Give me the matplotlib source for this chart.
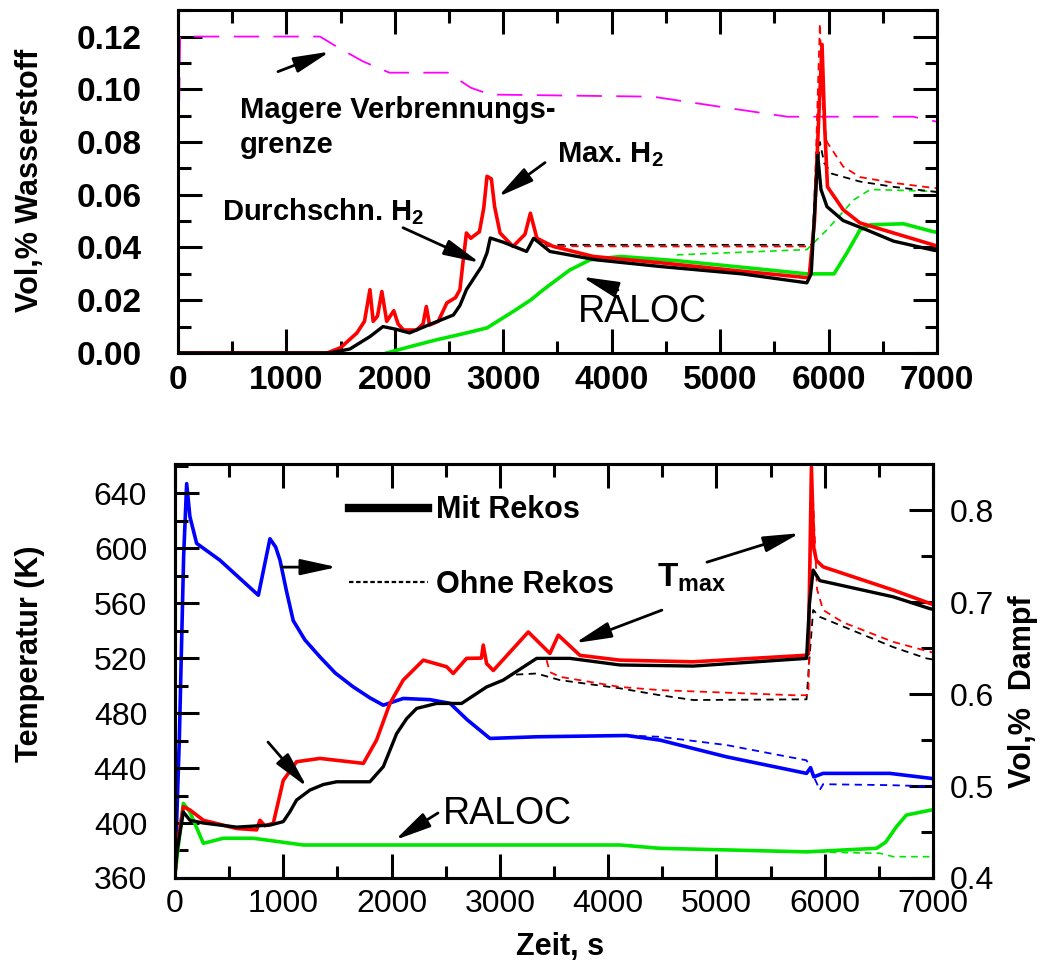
import matplotlib
matplotlib.use("Agg")
import matplotlib.pyplot as plt
from matplotlib.ticker import MultipleLocator, FormatStrFormatter
from matplotlib.lines import Line2D

plt.rcParams["font.family"] = ["Liberation Sans", "DejaVu Sans"]
plt.rcParams["mathtext.default"] = "regular"

# ---------- top panel: hydrogen (Vol,% Wasserstoff) ----------
t_lfl = [0, 20, 60, 1310, 1490, 1710, 1950, 2490, 2700, 2880, 4380, 5060, 5620, 6780, 7000]
lfl = [0.065, 0.12, 0.12, 0.12, 0.1155, 0.1105, 0.1063, 0.1063, 0.1006, 0.098,
       0.0972, 0.093, 0.0896, 0.0896, 0.0877]

t_h2max = [0, 1375, 1500, 1650, 1720, 1770, 1800, 1840, 1880, 1925, 1990, 2030, 2080,
           2200, 2260, 2290, 2320, 2400, 2480, 2560, 2600, 2630, 2660, 2700, 2780, 2820,
           2850, 2890, 2920, 2970, 3090, 3200, 3250, 3310, 3460, 3830, 4500, 5200, 5820,
           5870, 5910, 5940, 5965, 5990, 6135, 6290, 6600, 6965, 7000]
h2max = [0, 0, 0.002, 0.0076, 0.012, 0.024, 0.012, 0.014, 0.0233, 0.012, 0.016, 0.011,
         0.0087, 0.0087, 0.011, 0.0176, 0.0106, 0.012, 0.019, 0.021, 0.024, 0.035, 0.0455,
         0.0435, 0.046, 0.055, 0.067, 0.066, 0.0555, 0.0455, 0.0404, 0.045, 0.053, 0.0435,
         0.0404, 0.0366, 0.034, 0.031, 0.0285, 0.05, 0.09, 0.117, 0.085, 0.063, 0.0543,
         0.0493, 0.0455, 0.041, 0.0405]

t_h2avg = [0, 1400, 1585, 1770, 1890, 2010, 2135, 2310, 2540, 2600, 2660, 2800, 2850,
           2880, 3000, 3215, 3280, 3430, 3860, 4446, 5200, 5800, 5840, 5900, 5930, 5985,
           6135, 6350, 6600, 6965, 7000]
h2avg = [0, 0, 0.0015, 0.0062, 0.010, 0.009, 0.0076, 0.0106, 0.0144, 0.018, 0.024, 0.0328,
         0.038, 0.0436, 0.042, 0.0385, 0.0435, 0.0385, 0.0353, 0.0328, 0.030, 0.0266, 0.030,
         0.075, 0.062, 0.0555, 0.0502, 0.0467, 0.0424, 0.039, 0.0388]

t_h2max_o = [3250, 3310, 3400, 4500, 5850, 5880, 5920, 5950, 5985, 6135, 6290, 6600, 6965, 7000]
h2max_o = [0.053, 0.0435, 0.0405, 0.0404, 0.0404, 0.07, 0.125, 0.09, 0.080, 0.0707, 0.0667,
           0.0645, 0.0626, 0.0625]

t_h2avg_o = [3280, 3400, 4500, 5850, 5880, 5920, 5960, 6030, 6290, 6600, 6965, 7000]
h2avg_o = [0.0435, 0.041, 0.041, 0.041, 0.06, 0.080, 0.072, 0.068, 0.065, 0.063, 0.0612, 0.061]

t_raloc = [1925, 2150, 2385, 2620, 2850, 3090, 3250, 3370, 3500, 3615, 3800, 4080, 4600,
           5370, 5800, 6050, 6170, 6290, 6385, 6690, 6965, 7000]
raloc = [0, 0.0025, 0.005, 0.0072, 0.0095, 0.0157, 0.020, 0.024, 0.028, 0.0315, 0.0353,
         0.0366, 0.035, 0.0318, 0.030, 0.030, 0.038, 0.0467, 0.0486, 0.049, 0.046, 0.0458]

t_raloc_o = [4600, 5800, 5985, 6230, 6385, 6965, 7000]
raloc_o = [0.0372, 0.0392, 0.0467, 0.058, 0.062, 0.0613, 0.0612]

# ---------- bottom panel: temperature (K) and steam (Vol,% Dampf) ----------
t_tmax = [0, 15, 77, 138, 262, 570, 754, 785, 830, 908, 1000, 1123, 1339, 1740, 1862, 1985,
          2108, 2293, 2509, 2570, 2693, 2830, 2847, 2878, 2940, 3263, 3463, 3540, 3740, 4109,
          4786, 5817, 5850, 5878, 5900, 5924, 5986, 6633, 6971, 7000]
tmax = [362, 380, 411.9, 409.5, 402, 396, 395, 402, 398, 399.8, 431, 444.6, 447, 443.4,
        460.4, 487, 504, 518.5, 513.7, 508.8, 519.8, 520, 529.5, 516, 511, 539, 523.4,
        536.7, 522, 518.5, 517.3, 522, 523, 659, 600, 591, 586.4, 569.5, 559.8, 559]

t_tavg = [0, 20, 77, 138, 262, 570, 877, 1000, 1060, 1123, 1247, 1370, 1493, 1800, 1924,
          2047, 2140, 2232, 2416, 2647, 2878, 3032, 3340, 3648, 4109, 4786, 5833, 5860,
          5894, 5955, 6633, 6971, 7000]
tavg = [362, 380, 408, 402, 400, 397, 398.5, 401, 408, 416.7, 424, 428, 430, 430, 441,
        465, 476, 483.4, 487, 487, 499, 504, 519.8, 519.8, 515, 514.2, 519.8, 560, 584,
        576.4, 564.6, 556, 555.5]

t_tmax_o = [3432, 3463, 3555, 4109, 4478, 5709, 5850, 5870, 5890, 5930, 5986, 6170, 6633, 6971, 7000]
tmax_o = [518.5, 509.8, 506.4, 499, 496.7, 493, 493, 600, 640, 570, 555, 546, 531.8, 524.6, 524]

t_tavg_o = [3150, 3340, 3555, 4109, 4478, 4786, 5833, 5860, 5894, 5955, 6633, 6940, 7000]
tavg_o = [508, 508.8, 504, 498, 493, 489.5, 490, 520, 555, 550, 528, 519.8, 519]

t_gtemp = [0, 77, 138, 262, 446, 723, 1185, 4109, 4478, 5833, 6479, 6563, 6663, 6755, 6987, 7000]
gtemp = [362, 414.3, 408, 385.2, 388.9, 388.9, 384, 384, 381.6, 379, 381.6, 386, 397.3,
         405.8, 409.5, 409.5]

t_gtemp_o = [5833, 6509, 6633, 7000]
gtemp_o = [379, 378, 375.5, 375.5]

t_steam = [0, 40, 80, 108, 138, 200, 415, 770, 877, 930, 970, 1030, 1092, 1200, 1339, 1480,
           1645, 1800, 1924, 2108, 2355, 2540, 2700, 2909, 3340, 4170, 4478, 5094, 5833,
           5870, 5900, 5986, 6602, 6987, 7000]
steam = [0.405, 0.55, 0.75, 0.829, 0.793, 0.764, 0.7457, 0.7076, 0.769, 0.760, 0.7457,
         0.712, 0.680, 0.659, 0.6405, 0.623, 0.608, 0.596, 0.588, 0.5953, 0.594, 0.590,
         0.572, 0.5518, 0.5536, 0.555, 0.550, 0.5318, 0.5138, 0.52, 0.51, 0.5138, 0.5138,
         0.5083, 0.508]

t_steam_o = [4170, 4478, 5094, 5833, 5955, 5986, 6602, 6987, 7000]
steam_o = [0.555, 0.5536, 0.5446, 0.528, 0.4957, 0.502, 0.501, 0.4996, 0.4995]

RED = "#ff0000"
GREEN = "#00e600"
BLUE = "#0000ff"
MAGENTA = "#ff00ff"

fig = plt.figure(figsize=(10.44, 9.71), dpi=100)
ax1 = fig.add_axes([0.1705, 0.6365, 0.727, 0.353])
ax2 = fig.add_axes([0.1676, 0.0958, 0.726, 0.426])
ax2r = ax2.twinx()

arrow = dict(arrowstyle="-|>,head_length=1.1,head_width=0.24", color="black",
             lw=2, mutation_scale=20, shrinkA=0, shrinkB=0)

# top panel
ax1.plot(t_lfl, lfl, color=MAGENTA, lw=1.3, dashes=[14, 8])
ax1.plot(t_raloc_o, raloc_o, color=GREEN, lw=1.2, dashes=[4, 3])
ax1.plot(t_h2avg_o, h2avg_o, color="black", lw=1.3, dashes=[4, 3])
ax1.plot(t_h2max_o, h2max_o, color=RED, lw=1.3, dashes=[4, 3])
ax1.plot(t_raloc, raloc, color=GREEN, lw=2.6)
ax1.plot(t_h2max, h2max, color=RED, lw=2.6)
ax1.plot(t_h2avg, h2avg, color="black", lw=2.4)

ax1.set_xlim(0, 7000)
ax1.set_ylim(0, 0.130)
ax1.xaxis.set_major_locator(MultipleLocator(1000))
ax1.xaxis.set_minor_locator(MultipleLocator(500))
ax1.yaxis.set_major_locator(MultipleLocator(0.02))
ax1.yaxis.set_minor_locator(MultipleLocator(0.01))
ax1.yaxis.set_major_formatter(FormatStrFormatter("%.2f"))
ax1.tick_params(which="both", direction="in", top=True, right=True, width=2.2)
ax1.tick_params(which="major", length=17)
ax1.tick_params(which="minor", length=9)
ax1.tick_params(axis="x", pad=9, labelsize=24)
ax1.tick_params(axis="y", pad=26, labelsize=24)
for lab in ax1.get_xticklabels() + ax1.get_yticklabels():
    lab.set_fontweight("bold")

ax1.text(572, 0.0923, "Magere Verbrennungs-", fontsize=21, fontweight="bold", va="center")
ax1.text(572, 0.0790, "grenze", fontsize=21, fontweight="bold", va="center")
ax1.annotate("", xy=(1402, 0.1143), xytext=(922, 0.1067), arrowprops=arrow)
ax1.text(3495, 0.0752, "Max. H$_2$", fontsize=21, fontweight="bold", va="center")
ax1.annotate("", xy=(2951, 0.0592), xytext=(3385, 0.0722), arrowprops=arrow)
ax1.text(406, 0.0535, "Durchschn. H$_2$", fontsize=21, fontweight="bold", va="center")
ax1.annotate("", xy=(2785, 0.0342), xytext=(2075, 0.0475), arrowprops=arrow)
ax1.text(4279, 0.0156, "RALOC", fontsize=27, ha="center", va="center")
ax1.annotate("", xy=(3726, 0.0289), xytext=(4058, 0.0239), arrowprops=arrow)

# bottom panel
ax2r.plot(t_steam_o, steam_o, color=BLUE, lw=1.3, dashes=[4, 3])
ax2r.plot(t_steam, steam, color=BLUE, lw=2.6)
ax2.plot(t_gtemp_o, gtemp_o, color=GREEN, lw=1.2, dashes=[4, 3])
ax2.plot(t_tavg_o, tavg_o, color="black", lw=1.3, dashes=[4, 3])
ax2.plot(t_tmax_o, tmax_o, color=RED, lw=1.3, dashes=[4, 3])
ax2.plot(t_gtemp, gtemp, color=GREEN, lw=2.6)
ax2.plot(t_tmax, tmax, color=RED, lw=2.6)
ax2.plot(t_tavg, tavg, color="black", lw=2.4)
ax2.set_zorder(ax2r.get_zorder() + 1)
ax2.patch.set_visible(False)

ax2.set_xlim(0, 7000)
ax2.set_ylim(360, 661)
ax2r.set_ylim(0.4, 0.85)
ax2.xaxis.set_major_locator(MultipleLocator(1000))
ax2.xaxis.set_minor_locator(MultipleLocator(500))
ax2.yaxis.set_major_locator(MultipleLocator(40))
ax2.yaxis.set_minor_locator(MultipleLocator(20))
ax2r.yaxis.set_major_locator(MultipleLocator(0.1))
ax2r.yaxis.set_minor_locator(MultipleLocator(0.05))
ax2r.yaxis.set_major_formatter(FormatStrFormatter("%.1f"))
ax2.tick_params(axis="x", which="both", direction="in", top=True, width=2.2, pad=8, labelsize=23)
ax2.tick_params(axis="y", which="both", direction="in", right=False, width=2.2, pad=20, labelsize=23)
ax2r.tick_params(axis="y", which="both", direction="in", width=2.2, pad=12, labelsize=23)
for a in (ax2, ax2r):
    a.tick_params(which="major", length=17)
    a.tick_params(which="minor", length=9)

for a in (ax1, ax2, ax2r):
    for s in a.spines.values():
        s.set_linewidth(2.2)

handles = [Line2D([], [], color="black", lw=6),
           Line2D([], [], color="black", lw=1.6, dashes=[2, 1.2])]
ax2.legend(handles, ["Mit Rekos", "Ohne Rekos"], loc="upper left",
           bbox_to_anchor=(0.334, 0.49), bbox_transform=fig.transFigure,
           frameon=False, handlelength=2.6, handletextpad=0.25, labelspacing=1.45,
           borderpad=0, borderaxespad=0, prop=dict(size=22, weight="bold"))

ax2.text(4451, 578.2, "T$_{max}$", fontsize=24, fontweight="bold", va="center")
ax2.annotate("", xy=(5771, 610.9), xytext=(4913, 589.8), arrowprops=arrow)
ax2.annotate("", xy=(3694, 530.9), xytext=(4497, 554.9), arrowprops=arrow)
ax2.annotate("", xy=(1496, 586.2), xytext=(988, 586.2), arrowprops=arrow)
ax2.annotate("", xy=(1219, 426.2), xytext=(859, 458.9), arrowprops=arrow)
ax2.text(3066, 406.5, "RALOC", fontsize=27, ha="center", va="center")
ax2.annotate("", xy=(2032, 387.6), xytext=(2429, 407.3), arrowprops=arrow)

fig.text(0.0287, 0.8146, "Vol,% Wasserstoff", rotation=90, fontsize=22,
         fontweight="bold", ha="center", va="center")
fig.text(0.0287, 0.3265, "Temperatur (K)", rotation=90, fontsize=22,
         fontweight="bold", ha="center", va="center")
fig.text(0.980, 0.2873, "Vol,%  Dampf", rotation=90, fontsize=22,
         fontweight="bold", ha="center", va="center")
fig.text(0.536, 0.025, "Zeit, s", fontsize=22, fontweight="bold", ha="center", va="center")

fig.savefig("out.png", dpi=100)
